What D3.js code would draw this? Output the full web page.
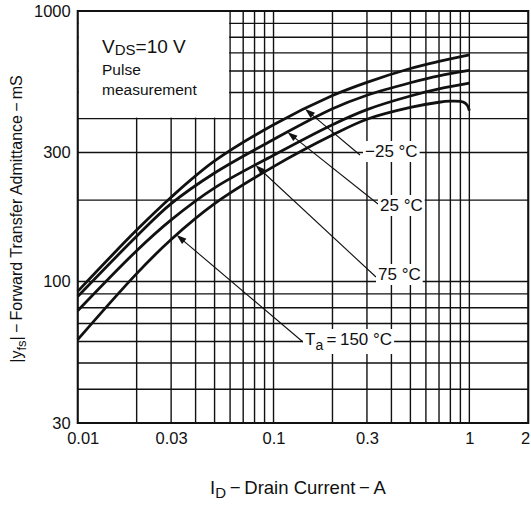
<!DOCTYPE html>
<html>
<head>
<meta charset="utf-8">
<script src="https://cdn.jsdelivr.net/npm/d3@7"></script>
<style>
  body { margin: 0; background: #fff; }
  text { font-family: "Liberation Sans", Arial, Helvetica, sans-serif; fill: #111; }
</style>
</head>
<body>
<div id="chart"></div>
<script>
// Data (|yfs| in mS vs ID in A)
const drainCurrent = [0.01, 0.02, 0.03, 0.05, 0.1, 0.2, 0.3, 0.5, 0.7, 1];
const yfsMinus25 = [92, 155, 205, 279, 380, 487, 545, 613, 651, 688];
const yfs25 = [88, 147, 194, 252, 335, 435, 488, 543, 576, 603];
const yfs75 = [78, 130, 169, 222, 293, 380, 432, 485, 515, 541];
const drainCurrent150 = [0.01, 0.02, 0.03, 0.05, 0.1, 0.2, 0.3, 0.5, 0.7, 0.8, 0.9, 0.95, 0.98, 1];
const yfs150 = [61, 107, 143, 194, 266, 348, 398, 440, 460, 464, 463, 457, 446, 428];

// Grid and tick labels
const xGrid = [0.01, 0.02, 0.03, 0.04, 0.05, 0.06, 0.07, 0.08, 0.09,
               0.1, 0.2, 0.3, 0.4, 0.5, 0.6, 0.7, 0.8, 0.9, 1, 2];
const yGrid = [30, 40, 50, 60, 70, 80, 90, 100, 200, 300, 400, 500, 600, 700, 800, 900, 1000];
const xTickLabels = [0.01, 0.03, 0.1, 0.3, 1, 2];
const yTickLabels = [30, 100, 300, 1000];

// Dimensions
const dims = {width: 531, height: 507};
const plot = {left: 77.7, right: 528.3, top: 11, bottom: 423};

const svg = d3.select('#chart')
  .append('svg')
  .attr('width', dims.width)
  .attr('height', dims.height);

// Scales
const x = d3.scaleLog().domain([0.01, 2]).range([plot.left, plot.right]);
const y = d3.scaleLog().domain([30, 1000]).range([plot.bottom, plot.top]);

// Grid group
const grid = svg.append('g').attr('class', 'grid')
  .attr('stroke', '#111').attr('stroke-width', 1.4);

grid.selectAll('line.vx')
  .data(xGrid)
  .enter().append('line')
    .attr('class', 'vx')
    .attr('x1', d => x(d)).attr('x2', d => x(d))
    .attr('y1', y(30)).attr('y2', y(1000));

grid.selectAll('line.hy')
  .data(yGrid)
  .enter().append('line')
    .attr('class', 'hy')
    .attr('y1', d => y(d)).attr('y2', d => y(d))
    .attr('x1', x(0.01)).attr('x2', x(2));

// Condition box (covers the grid in the top-left corner)
svg.append('rect')
  .attr('x', x(0.01) + 1)
  .attr('y', y(1000) + 1)
  .attr('width', x(0.06) - x(0.01) - 2)
  .attr('height', y(400) - y(1000) - 2)
  .attr('fill', '#fff');

const cond = svg.append('g').attr('class', 'conditions');
const vds = cond.append('text').attr('x', 102).attr('y', 53).attr('font-size', 19);
vds.append('tspan').text('V');
vds.append('tspan').attr('font-size', 15).attr('dy', 2).text('DS');
vds.append('tspan').attr('dy', -2).text('=10 V');
cond.append('text').attr('x', 102).attr('y', 75).attr('font-size', 15.5).text('Pulse');
cond.append('text').attr('x', 102).attr('y', 95).attr('font-size', 15.5).text('measurement');

// Frame
svg.append('rect')
  .attr('x', plot.left).attr('y', plot.top)
  .attr('width', plot.right - plot.left)
  .attr('height', plot.bottom - plot.top)
  .attr('fill', 'none')
  .attr('stroke', '#111')
  .attr('stroke-width', 2);

// Curves
const line = d3.line()
  .x(d => x(d[0]))
  .y(d => y(d[1]))
  .curve(d3.curveCatmullRom.alpha(0.5));

const series = [
  {key: 'm25', ids: drainCurrent, yfs: yfsMinus25},
  {key: '25', ids: drainCurrent, yfs: yfs25},
  {key: '75', ids: drainCurrent, yfs: yfs75},
  {key: '150', ids: drainCurrent150, yfs: yfs150}
];

svg.append('g').attr('class', 'curves')
  .selectAll('path')
  .data(series)
  .enter().append('path')
    .attr('d', s => line(d3.zip(s.ids, s.yfs)))
    .attr('fill', 'none')
    .attr('stroke', '#111')
    .attr('stroke-width', 2.8);

// log-log interpolation to find where an arrow touches a curve
const valueAt = (s, id) => {
  const i = Math.max(1, d3.bisectLeft(s.ids, id));
  const x0 = Math.log(s.ids[i - 1]), x1 = Math.log(s.ids[i]);
  const t = (Math.log(id) - x0) / (x1 - x0);
  return Math.exp(Math.log(s.yfs[i - 1]) + t * (Math.log(s.yfs[i]) - Math.log(s.yfs[i - 1])));
};

// Annotations: label text, where the arrow touches, where the leader ends
const notes = [
  {s: series[0], tip: 0.145, end: [360, 155], tx: 365, ty: 162, parts: [['\u221225 \u00b0C']]},
  {s: series[1], tip: 0.118, end: [378, 204], tx: 380, ty: 216, parts: [['25 \u00b0C']]},
  {s: series[2], tip: 0.081, end: [376, 277], tx: 378, ty: 285, parts: [['75 \u00b0C']]},
  {s: series[3], tip: 0.032, end: [303, 342], tx: 305, ty: 350,
   parts: [['T'], ['a', 'sub'], ['\u2009=\u2009150 \u00b0C']]}
];

const ann = svg.append('g').attr('class', 'annotations');

notes.forEach(n => {
  const tip = [x(n.tip), y(valueAt(n.s, n.tip))];
  const dx = tip[0] - n.end[0], dy = tip[1] - n.end[1];
  const len = Math.hypot(dx, dy);
  const ux = dx / len, uy = dy / len;

  ann.append('line')
    .attr('x1', n.end[0]).attr('y1', n.end[1])
    .attr('x2', tip[0] - ux * 6).attr('y2', tip[1] - uy * 6)
    .attr('stroke', '#111').attr('stroke-width', 1.1);

  const bx = tip[0] - ux * 10, by = tip[1] - uy * 10;
  ann.append('path')
    .attr('d', `M${tip[0]},${tip[1]}L${bx - uy * 3.4},${by + ux * 3.4}L${bx + uy * 3.4},${by - ux * 3.4}Z`)
    .attr('fill', '#111');

  const bg = ann.append('rect').attr('fill', '#fff');
  const label = ann.append('text')
    .attr('x', n.tx).attr('y', n.ty)
    .attr('font-size', 17);
  n.parts.forEach(p => {
    if (p[1] === 'sub') {
      label.append('tspan').attr('font-size', 14).attr('dy', 5).text(p[0]);
    } else {
      label.append('tspan').attr('dy', label.selectAll('tspan').size() ? -5 : 0).text(p[0]);
    }
  });
  const bb = label.node().getBBox();
  bg.attr('x', bb.x - 2).attr('y', bb.y - 1)
    .attr('width', bb.width + 4).attr('height', bb.height + 2);
});

// Axes
const xAxis = d3.axisBottom(x)
  .tickValues(xTickLabels)
  .tickFormat(d => String(d))
  .tickSize(0)
  .tickPadding(9);

svg.append('g')
  .attr('transform', `translate(0, ${plot.bottom})`)
  .call(xAxis)
  .call(g => g.select('.domain').remove())
  .selectAll('text')
    .attr('font-size', 16.5)
    .attr('font-family', '"Liberation Sans", Arial, sans-serif')
    .attr('fill', '#111')
    .attr('text-anchor', d => d === 2 ? 'end' : 'middle')
    .attr('dx', d => d === 0.01 ? 5 : d === 2 ? 1.5 : 0);

const yAxis = d3.axisLeft(y)
  .tickValues(yTickLabels)
  .tickFormat(d => String(d))
  .tickSize(0)
  .tickPadding(7);

svg.append('g')
  .attr('transform', `translate(${plot.left}, 0)`)
  .call(yAxis)
  .call(g => g.select('.domain').remove())
  .selectAll('text')
    .attr('font-size', 16.5)
    .attr('font-family', '"Liberation Sans", Arial, sans-serif')
    .attr('fill', '#111');

// Axis titles
const xTitle = svg.append('text')
  .attr('x', 298).attr('y', 494)
  .attr('text-anchor', 'middle')
  .attr('font-size', 18.5);
xTitle.append('tspan').text('I');
xTitle.append('tspan').attr('font-size', 15).attr('dy', 4).text('D');
xTitle.append('tspan').attr('dy', -4).text('\u2009\u2212\u2009Drain Current\u2009\u2212\u2009A');

const yTitle = svg.append('text')
  .attr('transform', 'translate(22, 219) rotate(-90)')
  .attr('text-anchor', 'middle')
  .attr('font-size', 16);
yTitle.append('tspan').text('|y');
yTitle.append('tspan').attr('font-size', 13).attr('dy', 4).text('fs');
yTitle.append('tspan').attr('dy', -4).text('|\u2009\u2212\u2009Forward Transfer Admittance\u2009\u2212\u2009mS');
</script>
</body>
</html>
